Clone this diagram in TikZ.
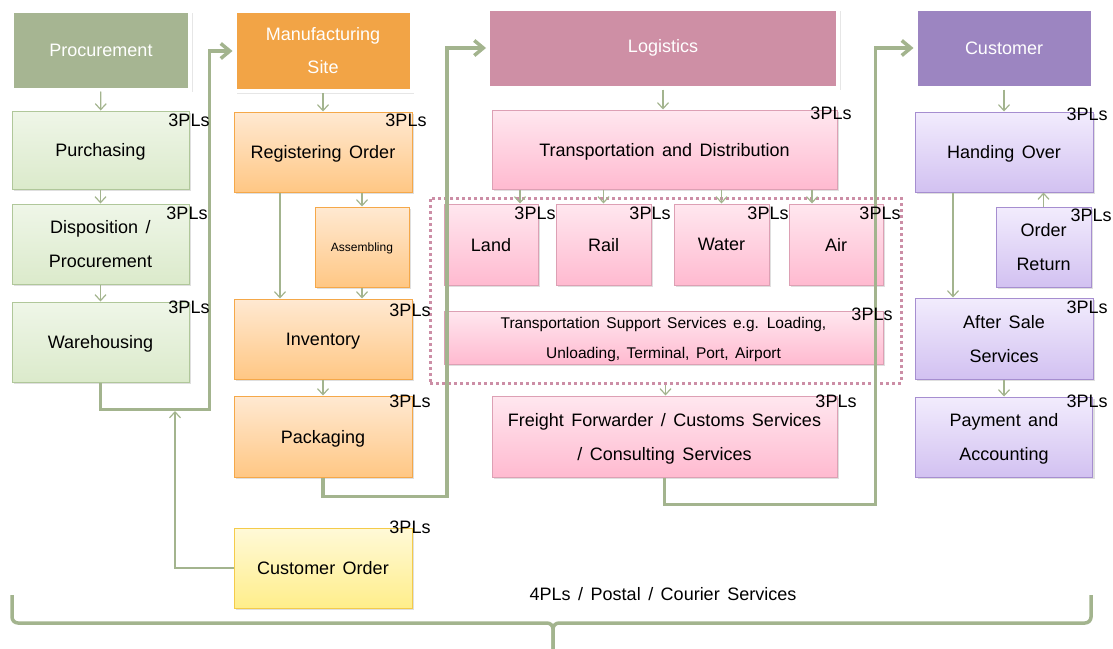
\documentclass[tikz,border=0pt]{standalone}
\usepackage{fontspec}
\setmainfont{Liberation Sans}[WordSpace=1.5]
\usepackage{tikz}
\usetikzlibrary{arrows.meta,shadows}
\definecolor{procDark}{HTML}{A6B592}
\definecolor{procTop}{HTML}{EFF6E8}
\definecolor{procBot}{HTML}{DBEACB}
\definecolor{procLine}{HTML}{B0C79A}
\definecolor{manuDark}{HTML}{F2A446}
\definecolor{manuTop}{HTML}{FFE9D2}
\definecolor{manuBot}{HTML}{FFC784}
\definecolor{manuLine}{HTML}{F5A849}
\definecolor{ordTop}{HTML}{FFF9D8}
\definecolor{ordBot}{HTML}{FFEE8A}
\definecolor{ordLine}{HTML}{F4CB4A}
\definecolor{logiDark}{HTML}{CE8FA5}
\definecolor{logiTop}{HTML}{FFE7EF}
\definecolor{logiBot}{HTML}{FFBAD0}
\definecolor{logiLine}{HTML}{DDA0B4}
\definecolor{custDark}{HTML}{9C85C1}
\definecolor{custTop}{HTML}{F2ECFD}
\definecolor{custBot}{HTML}{D2C1F1}
\definecolor{custLine}{HTML}{A68ED0}
\definecolor{lineGreen}{HTML}{A3B48E}
\definecolor{dotPink}{HTML}{CC8EA6}
\tikzset{
  every node/.style={font=\fontsize{18}{34}\selectfont, align=center, inner sep=0pt},
  sz/.style 2 args={minimum width=#1pt, minimum height=#2pt},
  head/.style={fill=#1Dark, draw=white, line width=4pt, text=white,
    drop shadow={shadow xshift=2.5pt,shadow yshift=-2.5pt,opacity=.2}},
  box/.style={draw=#1Line, line width=1pt, top color=#1Top, bottom color=#1Bot, text depth=0pt,
    drop shadow={shadow xshift=2pt,shadow yshift=-2pt,opacity=.25}},
  grp/.style={draw=dotPink, line width=3pt, dash pattern=on 3pt off 3pt},
  arr/.style={draw=lineGreen, line width=1.2pt, -{Straight Barb[length=6pt,width=11pt]}},
  bigarr/.style={draw=lineGreen, line width=3.5pt, -{Straight Barb[length=9pt,width=15pt]}},
  brace/.style={draw=lineGreen, line width=3.5pt, rounded corners=6pt},
  tpl/.style={font=\fontsize{18}{20}\selectfont}
}
\begin{document}
\begin{tikzpicture}[x=1pt,y=-1pt]
\useasboundingbox (0,0) rectangle (1113,648);
% headers
\node[head=proc, sz={178}{79}] (procH) at (101,50) {Procurement};
\node[head=manu, sz={177}{80}, font=\fontsize{18}{33}\selectfont] (manuH) at (323,51) {Manufacturing\\Site};
\node[head=logi, sz={350}{79}] (logH) at (663,48) {Logistics};
\node[head=cust, sz={177}{79}] (custH) at (1004,48) {Customer};
% transport group
\node[grp, sz={471}{185}] (tsgrp) at (665.5,290.5) {};
% boxes
\node[box=proc, sz={177}{78}] (purch) at (100.5,150) {Purchasing};
\node[box=proc, sz={177}{80}] (disp) at (100.5,244) {Disposition /\\Procurement};
\node[box=proc, sz={177}{80}] (ware) at (100.5,342) {Warehousing};
\node[box=manu, sz={178}{80}] (regO) at (323,152) {Registering Order};
\node[box=manu, sz={94}{80}, font=\fontsize{12}{14}\selectfont] (assem) at (362,247) {Assembling};
\node[box=manu, sz={178}{80}] (inv) at (323,339) {Inventory};
\node[box=manu, sz={178}{81}] (pack) at (323,436.5) {Packaging};
\node[box=ord, sz={178}{80}] (custO) at (323,568) {Customer Order};
\node[box=logi, sz={345}{79}] (trans) at (664.5,149.5) {Transportation and Distribution};
\node[box=logi, sz={94}{81}] (land) at (491,244.5) {Land};
\node[box=logi, sz={95}{81}] (rail) at (603.5,244.5) {Rail};
\node[box=logi, sz={95}{81}] (water) at (721.5,244.5) {Water};
\node[box=logi, sz={94}{81}] (air) at (836,244.5) {Air};
\node[box=logi, sz={439}{53}, font=\fontsize{15.5}{30}\selectfont] (tss) at (663.5,337.5) {Transportation Support Services e.g. Loading,\\Unloading, Terminal, Port, Airport};
\node[box=logi, sz={345}{81}] (freight) at (664.5,436.5) {Freight Forwarder / Customs Services\\/ Consulting Services};
\node[box=cust, sz={178}{80}] (hand) at (1004,152) {Handing Over};
\node[box=cust, sz={95}{80}] (oret) at (1043.5,247) {Order\\Return};
\node[box=cust, sz={178}{81}] (after) at (1004,338.5) {After Sale\\Services};
\node[box=cust, sz={177}{80}] (pay) at (1004,437) {Payment and\\Accounting};
% thin connectors
\draw[arr] (procH) -- (purch);
\draw[arr] (purch) -- (disp);
\draw[arr] (disp) -- (ware);
\draw[arr] (manuH) -- (regO);
\coordinate (regOut) at ([xshift=-43pt]regO.south);
\draw[arr] (regOut) -- (regOut |- inv.north);
\draw[arr] (assem.north |- regO.south) -- (assem.north);
\draw[arr] (assem) -- (assem.south |- inv.north);
\draw[arr] (inv) -- (pack);
\coordinate (fb) at (175,411);
\draw[arr] (custO.west) -| (fb);
\draw[arr] (logH.south) -- (logH.south |- trans.north);
\foreach \b/\s in {land/29,rail/0,water/0,air/-24}{
  \coordinate (in\b) at ([xshift=\s pt]\b.north);
  \draw[arr] (trans.south -| in\b) -- (in\b);
}
\draw[arr] (tsgrp.south) -- (tsgrp.south |- freight.north);
\draw[arr] (custH) -- (hand);
\coordinate (handOut) at ([xshift=-51pt]hand.south);
\draw[arr] (handOut) -- (handOut |- after.north);
\draw[arr] (oret.north) -- (oret.north |- hand.south);
\draw[arr] (after) -- (pay);
% thick connectors
\draw[bigarr] (ware.south) -- ++(0,27) -| ([xshift=-23pt]manuH.west) -- (manuH.west);
\draw[bigarr] (pack.south) -- ++(0,19) -| ([xshift=-39pt]logH.west) -- (logH.west);
\draw[bigarr] (freight.south) -- ++(0,27) -| ([xshift=-38pt]custH.west) -- (custH.west);
% brace
\draw[brace] (12,595) -- (12,623) -- (553,623) -- (553,652);
\draw[brace] (1091,595) -- (1091,623) -- (553,623) -- (553,652);
\node (postal) at (663,594) {4PLs / Postal / Courier Services};
% 3PLs labels
\foreach \n/\x/\y in {purch/189/120, disp/187/213, ware/189/307, regO/406/120,
  inv/410/310, pack/410/401, custO/410/527, trans/831/113, land/535/213,
  rail/650/213, water/768/213, air/880/213, tss/872/314, freight/836/401,
  hand/1087/114, oret/1091/215, after/1087/307, pay/1087/401}
  \node[tpl] (pl\n) at (\x,\y) {3PLs};
\end{tikzpicture}
\end{document}
